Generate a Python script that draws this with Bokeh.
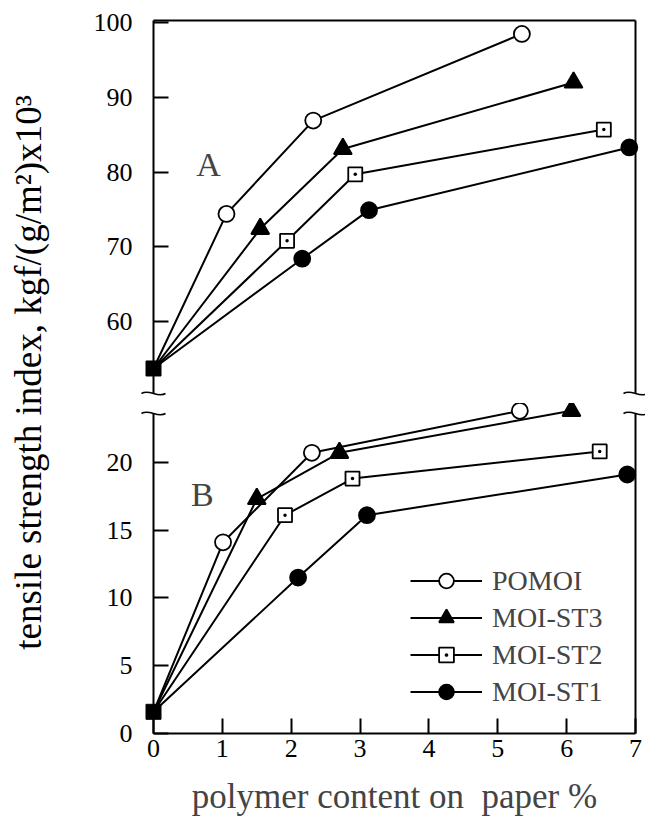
from bokeh.plotting import figure
from bokeh.layouts import row, column
from bokeh.models import Range1d, FixedTicker, LinearAxis, Label, Legend, LegendItem, Title
from bokeh.embed import file_html
from bokeh.resources import INLINE

FONT = "Liberation Serif"

# ---------------- data ----------------
x_ticks = [0, 1, 2, 3, 4, 5, 6, 7]
y_ticks_A = [60, 70, 80, 90, 100]
y_ticks_B = [0, 5, 10, 15, 20]

series_names = ["POMOI", "MOI-ST3", "MOI-ST2", "MOI-ST1"]

control_x = 0
control_A = 53.7
control_B = 1.6

# panel A
pomoi_x_A = [1.06, 2.32, 5.35]
pomoi_y_A = [74.4, 86.9, 98.5]
st3_x_A = [1.55, 2.75, 6.10]
st3_y_A = [72.4, 83.1, 92.0]
st2_x_A = [1.94, 2.93, 6.54]
st2_y_A = [70.8, 79.7, 85.7]
st1_x_A = [2.16, 3.13, 6.91]
st1_y_A = [68.4, 74.9, 83.3]

# panel B
pomoi_x_B = [1.01, 2.30, 5.32]
pomoi_y_B = [14.1, 20.7, 23.8]
st3_x_B = [1.50, 2.70, 6.07]
st3_y_B = [17.3, 20.7, 23.8]
st2_x_B = [1.91, 2.89, 6.48]
st2_y_B = [16.1, 18.8, 20.8]
st1_x_B = [2.10, 3.10, 6.88]
st1_y_B = [11.5, 16.1, 19.1]

data_A = {"POMOI": (pomoi_x_A, pomoi_y_A), "MOI-ST3": (st3_x_A, st3_y_A),
          "MOI-ST2": (st2_x_A, st2_y_A), "MOI-ST1": (st1_x_A, st1_y_A)}
data_B = {"POMOI": (pomoi_x_B, pomoi_y_B), "MOI-ST3": (st3_x_B, st3_y_B),
          "MOI-ST2": (st2_x_B, st2_y_B), "MOI-ST1": (st1_x_B, st1_y_B)}

styles = {
    "POMOI": dict(marker="circle", fill_color="white", size=16),
    "MOI-ST3": dict(marker="triangle", fill_color="black", size=18),
    "MOI-ST2": dict(marker="square_dot", fill_color="white", size=14),
    "MOI-ST1": dict(marker="circle", fill_color="black", size=16),
}

X_RANGE = (0, 7)
A_RANGE = (50.35, 100.3)
B_RANGE = (0, 23.6)

FIG_W = 577
LEFT = 85
RIGHT = 10
FRAME_W = FIG_W - LEFT - RIGHT


def base_fig(height, yr, top, bottom):
    p = figure(width=FIG_W, height=height, x_range=Range1d(*X_RANGE), y_range=Range1d(*yr),
               output_backend="svg", toolbar_location=None, title=None,
               x_axis_location=None, y_axis_location=None,
               min_border_left=LEFT, min_border_right=RIGHT,
               min_border_top=top, min_border_bottom=bottom,
               outline_line_color=None, background_fill_color="white")
    p.grid.visible = False
    return p


def plain_axis(**kw):
    return LinearAxis(ticker=FixedTicker(ticks=[]), axis_line_width=2,
                      major_tick_line_color=None, minor_tick_line_color=None,
                      major_label_text_font_size="0px", **kw)


def tick_axis(ticks, **kw):
    return LinearAxis(ticker=FixedTicker(ticks=ticks), axis_line_width=2,
                      major_tick_in=15, major_tick_out=0, major_tick_line_width=2,
                      minor_tick_line_color=None,
                      major_label_text_font=FONT, major_label_text_font_size="26px",
                      major_label_text_color="black", **kw)


def squiggle(p, xc, yc, px_per_y):
    dx = 12 * (X_RANGE[1] - X_RANGE[0]) / FRAME_W
    dy = 5 / px_per_y
    r = p.bezier(x0=[xc - dx], y0=[yc], x1=[xc + dx], y1=[yc],
                 cx0=[xc - dx / 3], cy0=[yc + dy], cx1=[xc + dx / 3], cy1=[yc - dy],
                 line_color="black", line_width=1.5)
    r.level = "overlay"


def draw_series(p, data, control):
    rends = {}
    for name in series_names:
        xs, ys = data[name]
        st = styles[name]
        ln = p.line([control_x] + xs, [control] + ys, line_color="black", line_width=2)
        ln.level = "annotation"
        sc = p.scatter(xs, ys, marker=st["marker"], size=st["size"], fill_color=st["fill_color"],
                       line_color="black", line_width=1.8)
        sc.level = "overlay"
        rends[name] = (ln, sc)
    sq = p.scatter([control_x], [control], marker="square", size=15, fill_color="black",
                   line_color="black")
    sq.level = "overlay"
    return rends


# ---------------- top panel (A) ----------------
TOP_T, TOP_B = 20, 10
TOP_H = TOP_T + 373 + TOP_B
top = base_fig(TOP_H, A_RANGE, TOP_T, TOP_B)
top.add_layout(tick_axis(y_ticks_A, major_label_standoff=21), "left")
top.add_layout(plain_axis(), "above")
top.add_layout(plain_axis(), "right")
draw_series(top, data_A, control_A)
top.add_layout(Label(x=0.8, y=81.0, text="A", text_font=FONT, text_font_size="34px",
                     text_align="center", text_baseline="middle"))
ppy_top = 373 / (A_RANGE[1] - A_RANGE[0])
squiggle(top, X_RANGE[0], A_RANGE[0], ppy_top)
squiggle(top, X_RANGE[1], A_RANGE[0], ppy_top)

# ---------------- bottom panel (B) ----------------
BOT_T, BOT_B = 10, 90
BOT_H = BOT_T + 320 + BOT_B
bot = base_fig(BOT_H, B_RANGE, BOT_T, BOT_B)
bot.add_layout(tick_axis(y_ticks_B, major_label_standoff=21), "left")
xax = tick_axis(x_ticks, major_label_standoff=6,
                axis_label="polymer content on\u00a0 paper %",
                axis_label_text_font=FONT, axis_label_text_font_size="35px",
                axis_label_text_font_style="normal", axis_label_standoff=17)
bot.add_layout(xax, "below")
bot.add_layout(plain_axis(), "right")
rB = draw_series(bot, data_B, control_B)
bot.add_layout(Label(x=0.71, y=17.6, text="B", text_font=FONT, text_font_size="34px",
                     text_align="center", text_baseline="middle"))
ppy_bot = 320 / (B_RANGE[1] - B_RANGE[0])
squiggle(bot, X_RANGE[0], B_RANGE[1], ppy_bot)
squiggle(bot, X_RANGE[1], B_RANGE[1], ppy_bot)

legend = Legend(items=[LegendItem(label=n, renderers=list(rB[n])) for n in series_names],
                location=(257, 23), padding=0, margin=0, border_line_color=None,
                background_fill_alpha=0, glyph_width=72, glyph_height=37, label_height=37,
                spacing=0, label_standoff=10, label_text_font=FONT,
                label_text_font_size="28px", label_text_baseline="middle")
bot.add_layout(legend, "center")

# ---------------- y label strip ----------------
TOTAL_H = TOP_H + BOT_H
yl = figure(width=68, height=TOTAL_H, output_backend="svg", toolbar_location=None, title=None,
            x_axis_location=None, y_axis_location=None, min_border_left=0, min_border_right=0,
            min_border_top=0, min_border_bottom=TOTAL_H - 744, outline_line_color=None)
yl.grid.visible = False
yl.add_layout(Title(text="tensile strength index, kgf/(g/m²)x10³", align="center",
                    text_font=FONT, text_font_size="37px", text_font_style="normal",
                    text_color="black"), "left")

layout = row(yl, column(top, bot))

open("out.html", "w").write(file_html(layout, INLINE))
